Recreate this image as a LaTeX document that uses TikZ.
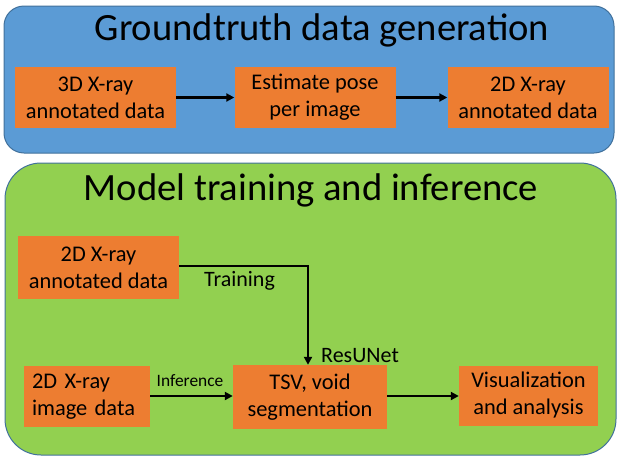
\documentclass[tikz,border=0pt]{standalone}
\usepackage{fontspec}
\setmainfont{Carlito}
\usetikzlibrary{arrows.meta}
\definecolor{pblue}{HTML}{5B9BD5}
\definecolor{pgreen}{HTML}{92D050}
\definecolor{porange}{HTML}{ED7D31}
\definecolor{pborder}{HTML}{41719C}
\begin{document}
\begin{tikzpicture}[x=1pt,y=-1pt,
  panel/.style={draw=pborder,line width=1pt},
  obox/.style={fill=porange,inner sep=0pt,font=\fontsize{22.4}{27}\selectfont,align=center},
  conn/.style={line width=2.2pt,-{Triangle[length=8pt,width=8pt]}},
  lbl/.style={inner sep=0pt,font=\fontsize{22}{26}\selectfont}]
\useasboundingbox (0,0) rectangle (618,458);
% panels
\draw[panel,fill=pblue,rounded corners=20pt] (4,6) rectangle (614,153);
\draw[panel,fill=pgreen,rounded corners=36pt] (5,163) rectangle (616,455);
\node[font=\fontsize{38.6}{44}\selectfont] (t1) at (322,30) {Groundtruth data generation};
\node[font=\fontsize{38.6}{44}\selectfont] (t2) at (311,190) {Model training and inference};
% top row
\node[obox,minimum width=161pt,minimum height=61pt] (a) at (95.5,97.5) {3D X-ray\\annotated data};
\node[obox,minimum width=161pt,minimum height=61pt] (b) at (315,97.5) {Estimate pose\\per image};
\node[obox,minimum width=161pt,minimum height=61pt] (c) at (528,97.5) {2D X-ray\\annotated data};
\draw[conn] (a.east) -- (b.west);
\draw[conn] (b.east) -- (c.west);
% bottom
\node[obox,minimum width=161pt,minimum height=63pt] (d) at (98.5,267.5) {2D X-ray\\annotated data};
\node[obox,minimum width=126pt,minimum height=61pt,text width=110pt,align=left] (e) at (87,396.5) {2D X-ray\\image data};
\node[obox,minimum width=154pt,minimum height=64pt] (f) at (310,397) {TSV, void\\segmentation};
\node[obox,minimum width=139pt,minimum height=60pt] (g) at (528.5,395.5) {Visualization\\and analysis};
\coordinate (k) at (308,266);
\draw[conn] (d.east |- k) -- (k) -- (f.north -| k);
\draw[conn] (e.east |- 0,396) -- (f.west |- 0,396);
\draw[conn] (f.east |- 0,396) -- (g.west |- 0,396);
\node[lbl,anchor=west] (l1) at (204,281) {Training};
\node[lbl,anchor=west] (l2) at (321,356) {ResUNet};
\node[inner sep=0pt,font=\fontsize{17.4}{20}\selectfont] (l3) at (190,381) {Inference};
\end{tikzpicture}
\end{document}
